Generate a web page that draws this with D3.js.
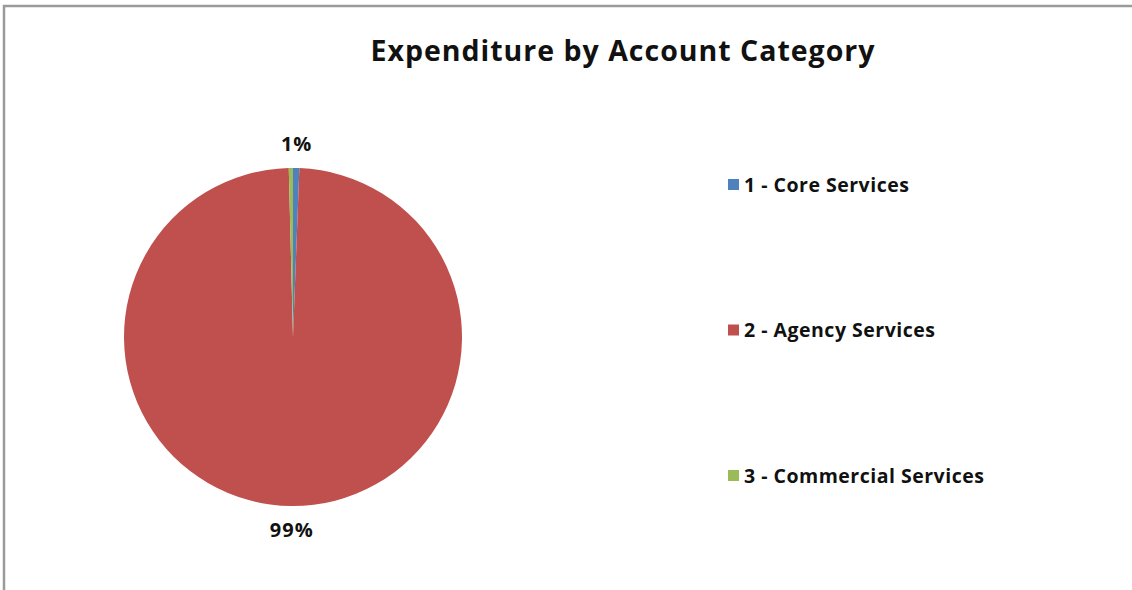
<!DOCTYPE html>
<html>
<head>
<meta charset="utf-8">
<script src="https://cdn.jsdelivr.net/npm/d3@7"></script>
<style>
  html, body { margin: 0; padding: 0; background: #fff; }
  svg text { font-family: "Open Sans", Lato, sans-serif; font-weight: bold; fill: #111; }
</style>
</head>
<body>
<div id="chart"></div>
<script>
// data
const categories = ['1 - Core Services', '2 - Agency Services', '3 - Commercial Services']
const shares = [0.6, 99.0, 0.4]
const colors = ['#4F81BD', '#C0504D', '#9BBB59']
const title = 'Expenditure by Account Category'

const width = 1132
const height = 590

const svg = d3.select('#chart').append('svg')
  .attr('width', width)
  .attr('height', height)

// chart frame
svg.append('path')
  .attr('d', `M4,${height}V6H${width}`)
  .attr('fill', 'none')
  .attr('stroke', '#9a9a9a')
  .attr('stroke-width', 2.5)

svg.append('text')
  .attr('x', 623)
  .attr('y', 61)
  .attr('text-anchor', 'middle')
  .attr('font-size', 28.5)
  .attr('letter-spacing', 1)
  .text(title)

const data = categories.map((c, i) => ({ name: c, value: shares[i], color: colors[i] }))

const cx = 293, cy = 337, r = 169
const pie = d3.pie().value(d => d.value).sort(null)
const arc = d3.arc().innerRadius(0).outerRadius(r)
const arcs = pie(data)

const g = svg.append('g').attr('transform', `translate(${cx},${cy})`)

g.selectAll('path')
  .data(arcs)
  .join('path')
  .attr('d', arc)
  .attr('fill', d => d.data.color)

// percentage labels outside the pie (Excel hides the 0% one)
const fmt = d3.format('.0%')
const total = d3.sum(shares)
const labelArc = d3.arc().innerRadius(r + 24).outerRadius(r + 24)

g.selectAll('text.pct')
  .data(arcs.filter(d => Math.round(d.data.value / total * 100) >= 1))
  .join('text')
  .attr('class', 'pct')
  .attr('font-size', 20)
  .attr('letter-spacing', 1)
  .attr('text-anchor', 'middle')
  .attr('dy', '0.35em')
  .attr('transform', d => {
    const [x, y] = labelArc.centroid(d)
    return `translate(${x},${y})`
  })
  .text(d => fmt(d.data.value / total))

// legend
const legendY = d3.scalePoint().domain(categories).range([185, 476])

const legend = svg.append('g')
  .selectAll('g')
  .data(data)
  .join('g')
  .attr('transform', d => `translate(728,${legendY(d.name)})`)

legend.append('rect')
  .attr('x', 0)
  .attr('y', -6)
  .attr('width', 11)
  .attr('height', 11)
  .attr('fill', d => d.color)

legend.append('text')
  .attr('x', 16)
  .attr('dy', '0.35em')
  .attr('font-size', 19.5)
  .attr('letter-spacing', 0.5)
  .text(d => d.name)
</script>
</body>
</html>
